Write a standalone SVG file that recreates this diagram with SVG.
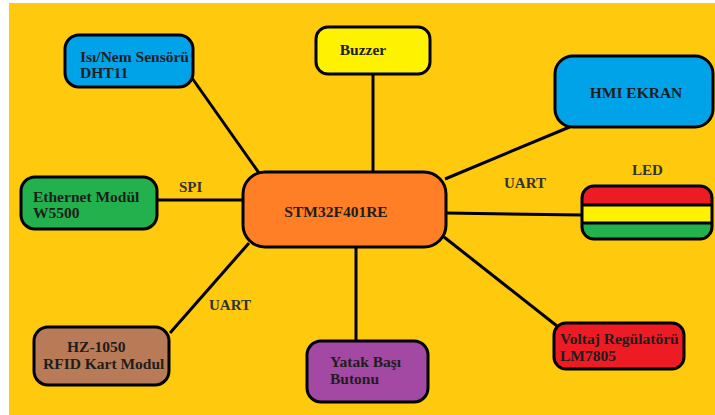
<svg xmlns="http://www.w3.org/2000/svg" width="715" height="415" viewBox="0 0 715 415">
<style>
.box{stroke:#000;stroke-width:3}
.t{font-family:"Liberation Serif","Times New Roman",serif;font-weight:bold;font-size:15.5px;fill:#1e1e1e}
.lbl{font-family:"Liberation Serif","Times New Roman",serif;font-weight:bold;font-size:15px;fill:#333}
.c line{stroke:#000;stroke-width:3}
</style>
<rect x="0" y="0" width="715" height="415" fill="#fff"/>
<rect x="9" y="3" width="706" height="412" fill="#FFC90E"/>
<g class="c" id="connectors">
<line x1="192" y1="78" x2="259" y2="173"/>
<line x1="373" y1="74" x2="373" y2="172"/>
<line x1="572" y1="126" x2="445" y2="179"/>
<line x1="157" y1="200" x2="243" y2="200"/>
<line x1="446" y1="213" x2="582" y2="215"/>
<line x1="249" y1="243" x2="170" y2="333"/>
<line x1="356" y1="247" x2="356" y2="341"/>
<line x1="444" y1="237" x2="557" y2="326"/>
</g>
<g id="labels">
<text class="lbl" x="179" y="192">SPI</text>
<text class="lbl" x="504" y="188">UART</text>
<text class="lbl" x="209" y="310">UART</text>
<text class="lbl" x="632" y="175">LED</text>
</g>
<g id="isi">
<rect class="box" x="65" y="35" width="128" height="52" rx="14" fill="#00A2E8"/>
<text class="t" x="80" y="62">Isı/Nem Sensörü</text>
<text class="t" x="80" y="78">DHT11</text>
</g>
<g id="buzzer">
<rect class="box" x="316" y="27" width="114" height="47" rx="12" fill="#FFF200"/>
<text class="t" x="363" y="55" text-anchor="middle">Buzzer</text>
</g>
<g id="hmi">
<rect class="box" x="555" y="56" width="158" height="71" rx="18" fill="#00A2E8"/>
<text class="t" x="636" y="98" text-anchor="middle">HMI EKRAN</text>
</g>
<g id="ethernet">
<rect class="box" x="21" y="177" width="136" height="52" rx="14" fill="#22B14C"/>
<text class="t" x="33" y="202">Ethernet Modül</text>
<text class="t" x="33" y="218">W5500</text>
</g>
<g id="stm32">
<rect class="box" x="243" y="172" width="203" height="75" rx="22" fill="#FF7F27"/>
<text class="t" x="336" y="217" text-anchor="middle">STM32F401RE</text>
</g>
<g id="led">
<clipPath id="ledclip"><rect x="582" y="186" width="130" height="53" rx="12"/></clipPath>
<g clip-path="url(#ledclip)">
<rect x="582" y="186" width="130" height="19" fill="#ED1C24"/>
<rect x="582" y="205" width="130" height="18" fill="#FFF200"/>
<rect x="582" y="223" width="130" height="16" fill="#22B14C"/>
</g>
<line x1="582" y1="205" x2="712" y2="205" stroke="#000" stroke-width="3"/>
<line x1="582" y1="223" x2="712" y2="223" stroke="#000" stroke-width="3"/>
<rect class="box" x="582" y="186" width="130" height="53" rx="12" fill="none"/>
</g>
<g id="hz1050">
<rect class="box" x="34" y="327" width="135" height="58" rx="14" fill="#B97A57"/>
<text class="t" x="67" y="352">HZ-1050</text>
<text class="t" x="43" y="369">RFID Kart Modul</text>
</g>
<g id="yatak">
<rect class="box" x="307" y="341" width="121" height="61" rx="14" fill="#A349A4"/>
<text class="t" x="330" y="367">Yatak Başı</text>
<text class="t" x="330" y="384">Butonu</text>
</g>
<g id="voltaj">
<rect class="box" x="554" y="323" width="130" height="46" rx="12" fill="#ED1C24"/>
<text class="t" x="560" y="344">Voltaj Regülatörü</text>
<text class="t" x="560" y="361">LM7805</text>
</g>
</svg>
